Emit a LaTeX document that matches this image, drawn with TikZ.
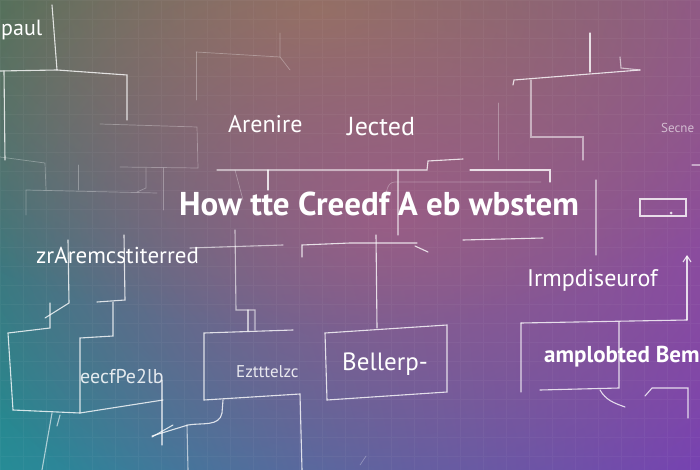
\documentclass[tikz,border=0pt]{standalone}
\usepackage{fontspec}
\setmainfont{PT Sans}
\usetikzlibrary{fadings,shadings,arrows.meta}
\definecolor{bgul}{RGB}{50,106,96}
\definecolor{bgur}{RGB}{140,78,152}
\definecolor{bgll}{RGB}{38,140,150}
\definecolor{bglr}{RGB}{118,66,178}
\definecolor{glowamber}{RGB}{150,124,84}
\definecolor{glowpink}{RGB}{172,90,136}
\tikzfading[name=glowfade, inner color=transparent!0, outer color=transparent!100]
\newcommand{\fsz}[1]{\fontsize{#1}{#1}\selectfont}
\tikzset{
  wire/.style={draw=white, line width=1.1pt, opacity=.8, line cap=round},
  faint/.style={draw=white, line width=.7pt, opacity=.3, line cap=round},
  lbl/.style={text=white, inner sep=0pt, anchor=base west},
}

\begin{document}
\begin{tikzpicture}[x=1pt,y=-1pt]
  % Background
  \useasboundingbox (0,0) rectangle (700,470);
  \begin{scope}
    \clip (0,0) rectangle (700,470);
    \shade[upper left=bgul, upper right=bgur, lower left=bgll, lower right=bglr] (0,0) rectangle (700,470);
    \fill[glowamber, path fading=glowfade, opacity=.85] (320,10) ellipse [x radius=560pt, y radius=320pt];
    \fill[glowpink, path fading=glowfade, opacity=.7] (390,215) ellipse [x radius=480pt, y radius=340pt];
    \draw[white, opacity=.04, xstep=23pt, ystep=19pt] (0,0) grid (700,470);
  \end{scope}

  % Define nodes
  \node[lbl, font=\fsz{22}]                     (paul)  at (1,36)    {paul};
  \node[lbl, font=\fsz{24}]                     (aren)  at (228,133) {Arenire};
  \node[lbl, font=\fsz{26}]                     (ject)  at (347,136) {Jected};
  \node[lbl, font=\fsz{13}, opacity=.6]         (secn)  at (661,133) {Secne};
  \node[lbl, font=\fsz{33}\bfseries]            (title) at (179,215) {How tte Creedf A eb wbstem};
  \node[lbl, font=\fsz{23}]                     (zrar)  at (36,263)  {zrAremcstiterred};
  \node[lbl, font=\fsz{24}]                     (irmp)  at (527,286) {Irmpdiseurof};
  \node[lbl, font=\fsz{23}\bfseries]            (ampl)  at (544,362) {amplobted Bem};
  \node[lbl, font=\fsz{17}, opacity=.85]        (eztt)  at (236,377) {Eztttelzc};
  \node[lbl, font=\fsz{25}]                     (bell)  at (342,370) {Bellerp-};
  \node[lbl, font=\fsz{20}, opacity=.85]        (eecf)  at (80,383)  {eecfPe2lb};
  \coordinate (arrowfoot) at (687,320);
  \coordinate (arrowhead) at (687,255);

  % Top left frame
  \draw[wire] (52,5) -- (57,70);
  \draw[wire] (0,71) -- (57,70) -- (127,75) -- (127,120);
  \draw[wire] (4,71) -- (5,160);
  \draw[faint] (0,157) -- (45,163) -- (46,190);
  \draw[faint] (26,215) -- (26,190) -- (157,193);
  \draw[faint] (78,165) -- (78,190);
  \draw[faint] (100,124) -- (197,127) -- (198,168);
  \draw[faint] (120,167) -- (198,168);
  \draw[faint] (163,168) -- (163,210);
  \draw[faint] (146,168) -- (146,188) -- (137,192);
  \draw[faint] (196,52) -- (280,57) -- (280,33);
  \draw[faint] (280,57) -- (290,70);
  \draw[faint] (196,52) -- (196,100);

  % Title rules
  \draw[wire] (217,170) -- (427,170) -- (428,161) -- (463,159);
  \draw[wire] (268,170) -- (268,190);
  \draw[faint] (235,170) -- (243,200);
  \draw[wire] (470,170) -- (550,170) -- (550,182);
  \draw[faint] (541,182) -- (395,182) to[out=180,in=80] (385,200);
  \draw[wire, opacity=.5] (398,170) -- (398,235);

  % Top right frame
  \draw[wire] (590,33) -- (590,72);
  \draw[wire] (513,85) -- (514,80) -- (640,70);
  \draw[wire, opacity=.6] (620,57) -- (621,68) -- (640,70);
  \draw[wire, opacity=.5] (531,80) -- (531,137) -- (583,137) -- (583,160);
  \draw[faint] (498,103) -- (498,160);
  \draw[wire] (640,199) rectangle (686,216);
  \fill[white, opacity=.8] (671,213) circle (1.5pt);
  \draw[wire, opacity=.5] (596,180) -- (596,255);
  \draw[wire, opacity=.5] (692,165) -- (700,165);

  % Middle rules
  \draw[wire, opacity=.6] (190,248) -- (283,245);
  \draw[wire] (302,257) -- (302,245) -- (350,243) -- (417,243);
  \draw[wire] (415,246) -- (428,252);
  \draw[wire] (463,240) -- (543,238);
  \draw[wire, opacity=.6] (235,230) -- (236,310) -- (255,310) -- (255,330);
  \draw[wire, opacity=.6] (248,310) -- (248,331);

  % Left frames
  \draw[wire] (68,240) -- (69,303) -- (45,318);
  \draw[wire] (50,303) -- (50,328) -- (8,333) -- (13,410) -- (80,413) -- (163,400);
  \draw[wire] (80,413) -- (80,338) -- (113,336) -- (113,302);
  \draw[wire] (97,302) -- (125,300) -- (124,235);
  \draw[wire, opacity=.6] (162,380) -- (162,445);
  \draw[wire] (152,437) -- (173,425);
  \draw[wire, opacity=.6] (52,413) -- (42,470);
  \draw[wire, opacity=.6] (60,415) -- (57,426);

  % Lower frames
  \draw[wire] (293,330) -- (204,333) -- (204,400) -- (300,394) -- (302,470);
  \draw[wire] (223,400) -- (222,413) to[out=260,in=10] (188,425) -- (152,436);
  \draw[wire, opacity=.6] (187,425) -- (188,470);
  \draw[wire] (376,235) -- (377,328);
  \draw[wire] (325,333) -- (447,325) -- (447,392) -- (327,400) -- cycle;
  \draw[wire] (521,323) -- (687,320);
  \draw[wire, opacity=.5] (521,323) -- (521,392);
  \draw[wire] (619,322) -- (619,388) -- (540,390);
  \draw[wire] (600,390) to[out=-60,in=160] (625,407);
  \draw[wire, -{Straight Barb[length=6pt,width=8pt]}] (arrowfoot) -- (arrowhead);
  \draw[wire] (645,396) -- (652,388) -- (688,388) -- (688,418);
  \draw[faint] (360,465) -- (366,456);
\end{tikzpicture}
\end{document}
